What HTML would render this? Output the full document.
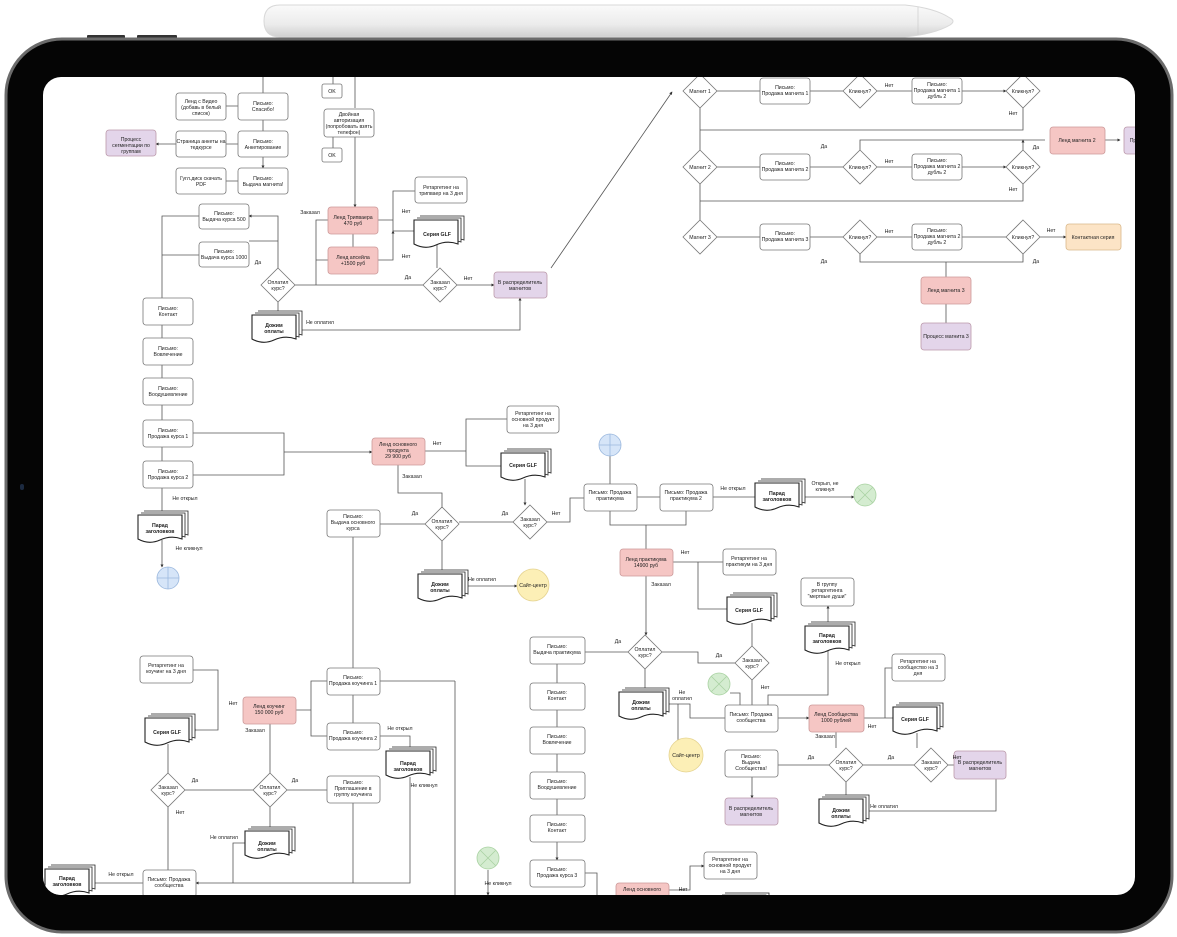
<!DOCTYPE html>
<html><head><meta charset="utf-8"><style>
html,body{margin:0;padding:0;background:#fff;width:1177px;height:937px;overflow:hidden}
svg text{font-family:"Liberation Sans",sans-serif;font-size:5.2px;fill:#222;text-anchor:middle}
svg text.l{text-anchor:start}
svg text.b{font-weight:bold}
</style></head><body>
<svg width="1177" height="937" viewBox="0 0 1177 937" xmlns="http://www.w3.org/2000/svg">
<defs>
<linearGradient id="pen" x1="0" y1="0" x2="0" y2="1"><stop offset="0" stop-color="#fafafa"/><stop offset=".6" stop-color="#ececec"/><stop offset="1" stop-color="#cfcfcf"/></linearGradient>
<marker id="a" viewBox="0 0 6 6" refX="5" refY="3" markerWidth="4" markerHeight="4" orient="auto"><path d="M0,0L6,3L0,6z" fill="#333"/></marker>
<clipPath id="scr"><rect x="43" y="77" width="1092" height="818" rx="18"/></clipPath>
<g id="doc"><path d="M6,-4H50V20Q45,18 40,20" fill="#fff" stroke="#222" stroke-width=".8"/><path d="M3,-2H47V22Q42,20 37,22" fill="#fff" stroke="#222" stroke-width=".8"/><path d="M0,0H44V24Q33,20 22,25T0,24Z" fill="#fff" stroke="#222" stroke-width="1.1"/></g>
</defs>
<!-- pencil -->
<path d="M280,5H905Q935,8 950,18Q956,21 950,25Q935,34 905,37H280Q264,37 264,21Q264,5 280,5Z" fill="url(#pen)" stroke="#d8d8d8"/>
<line x1="918" y1="7" x2="918" y2="35" stroke="#ccc" stroke-width=".7"/>
<!-- frame -->
<rect x="87" y="35" width="38" height="4" rx="1" fill="#333"/><rect x="137" y="35" width="40" height="4" rx="1" fill="#333"/>
<rect x="6" y="39" width="1166" height="893" rx="56" fill="#050505" stroke="#6b6b6b" stroke-width="3"/>
<rect x="20" y="484" width="4" height="6" rx="2" fill="#1c2a40"/>
<rect x="43" y="77" width="1092" height="818" rx="18" fill="#fff"/>
<g clip-path="url(#scr)" stroke="#555" stroke-width=".8" fill="none">
<!-- connectors -->
<path d="M333,77V84M355,77V108M333,136V148M355,136V207" marker-end="url(#a)"/>
<path d="M263,77V93M263,120V131M263,157V168" marker-end="url(#a)"/>
<path d="M238,106H226M238,144H226M238,181H226M176,144H156" marker-end="url(#a)"/>
<path d="M353,234V247M378,220H393V191H415M393,220V231H414M378,260H393V231" marker-end="url(#a)"/>
<path d="M437,245V268M423,285H295M328,220H316V285M328,260H316M457,285H494" marker-end="url(#a)"/>
<path d="M278,268V241H249M278,241V216H249" marker-end="url(#a)"/>
<path d="M278,302V313M298,330H520V298" marker-end="url(#a)"/>
<path d="M199,216H162V298M199,255H162" />
<path d="M162,325V338M162,365V378M162,405V420M162,447V461M162,488V513M162,540V567" marker-end="url(#a)"/>
<path d="M551,268L672,92" marker-end="url(#a)"/>
<path d="M717,91H760M810,91H843M877,91H912M962,91H1006" marker-end="url(#a)"/>
<path d="M717,167H760M810,167H843M877,167H912M962,167H1006" marker-end="url(#a)"/>
<path d="M717,237H760M810,237H843M877,237H912M962,237H1006M1040,237H1066" marker-end="url(#a)"/>
<path d="M700,108V150M700,184V220M1023,108V130H700M1023,184V201H700M860,150V140H1045M1023,150V140" marker-end="url(#a)"/>
<path d="M860,254V262H1023V254M946,262V277M946,304V323M1105,140H1120" marker-end="url(#a)"/>
<path d="M193,433H284V475H193M284,452H372" marker-end="url(#a)"/>
<path d="M425,451H466V419H507M466,451V466H501M398,465V493H442V507M525,479V505" marker-end="url(#a)"/>
<path d="M513,522H459M425,524H380M547,522H570V498H584M442,541V572M466,586H517" marker-end="url(#a)"/>
<path d="M353,537V668M610,456V484M637,497H660M713,497H755M801,497H854" marker-end="url(#a)"/>
<path d="M610,511V525H686V511M646,525V549M673,562H723M698,562V609H727M646,576V635" marker-end="url(#a)"/>
<path d="M752,623V646M735,663H698V652H662M628,652H585M645,669V690M828,624V606" marker-end="url(#a)"/>
<path d="M557,664V683M557,710V727M557,754V772M557,799V815M557,842V860" marker-end="url(#a)"/>
<path d="M667,704H690V718H725M678,704V740M752,680V705M730,693H740V705M768,705V695H828V651M778,718H809" marker-end="url(#a)"/>
<path d="M864,718H885V668H892M885,718H893M917,733V748M836,732V748M914,765H863M829,765H778M948,765H954M846,782V797M865,811H996V779M752,777V798" marker-end="url(#a)"/>
<path d="M585,873H597V895M669,890H690V866H704" marker-end="url(#a)"/>
<path d="M327,681H311V710H296M311,710V736H327M353,695V723M380,736H410V749M218,710V670H193M218,710V730H193" marker-end="url(#a)"/>
<path d="M168,744V773M185,790H253M287,790H327M270,724V773M270,807V829M168,807V870M353,803V883M410,777V883H196" marker-end="url(#a)"/>
<path d="M245,843H233V883M143,883H91M455,681H380M455,681V895M488,870V895" marker-end="url(#a)"/>
</g>
<g clip-path="url(#scr)">
<!-- boxes -->
<g stroke="#777" stroke-width=".8" fill="#fff">
<rect x="322" y="84" width="20" height="14" rx="2"/><rect x="322" y="148" width="20" height="14" rx="2"/>
<rect x="176" y="93" width="50" height="27" rx="3"/><rect x="238" y="93" width="50" height="27" rx="3"/>
<rect x="176" y="131" width="50" height="26" rx="3"/><rect x="238" y="131" width="50" height="26" rx="3"/>
<rect x="176" y="168" width="50" height="26" rx="3"/><rect x="238" y="168" width="50" height="26" rx="3"/>
<rect x="324" y="109" width="50" height="28" rx="3"/><rect x="415" y="177" width="52" height="26" rx="3"/>
<rect x="199" y="204" width="50" height="25" rx="3"/><rect x="199" y="242" width="50" height="25" rx="3"/>
<rect x="143" y="298" width="50" height="27" rx="3"/><rect x="143" y="338" width="50" height="27" rx="3"/>
<rect x="143" y="378" width="50" height="27" rx="3"/><rect x="143" y="420" width="50" height="27" rx="3"/>
<rect x="143" y="461" width="50" height="27" rx="3"/>
<rect x="760" y="78" width="50" height="26" rx="3"/><rect x="912" y="78" width="50" height="26" rx="3"/>
<rect x="760" y="154" width="50" height="26" rx="3"/><rect x="912" y="154" width="50" height="26" rx="3"/>
<rect x="760" y="224" width="50" height="26" rx="3"/><rect x="912" y="224" width="50" height="26" rx="3"/>
<rect x="507" y="406" width="52" height="27" rx="3"/><rect x="327" y="510" width="53" height="27" rx="3"/>
<rect x="584" y="484" width="53" height="27" rx="3"/><rect x="660" y="484" width="53" height="27" rx="3"/>
<rect x="723" y="549" width="53" height="26" rx="3"/><rect x="801" y="578" width="53" height="28" rx="3"/>
<rect x="530" y="637" width="55" height="27" rx="3"/><rect x="725" y="705" width="53" height="27" rx="3"/>
<rect x="892" y="654" width="53" height="27" rx="3"/><rect x="725" y="750" width="53" height="27" rx="3"/>
<rect x="530" y="683" width="55" height="27" rx="3"/><rect x="530" y="727" width="55" height="27" rx="3"/>
<rect x="530" y="772" width="55" height="27" rx="3"/><rect x="530" y="815" width="55" height="27" rx="3"/>
<rect x="530" y="860" width="55" height="27" rx="3"/><rect x="704" y="852" width="53" height="27" rx="3"/>
<rect x="140" y="656" width="53" height="27" rx="3"/><rect x="327" y="668" width="53" height="27" rx="3"/>
<rect x="327" y="723" width="53" height="27" rx="3"/><rect x="327" y="776" width="53" height="27" rx="3"/>
<rect x="143" y="870" width="53" height="27" rx="3"/>
</g>
<g stroke="#c99" stroke-width=".8" fill="#f5c6c4">
<rect x="328" y="207" width="50" height="27" rx="3"/><rect x="328" y="247" width="50" height="27" rx="3"/>
<rect x="1050" y="127" width="55" height="27" rx="3"/><rect x="921" y="277" width="50" height="27" rx="3"/>
<rect x="372" y="438" width="53" height="27" rx="3"/><rect x="620" y="549" width="53" height="27" rx="3"/>
<rect x="809" y="705" width="55" height="27" rx="3"/><rect x="243" y="697" width="53" height="27" rx="3"/>
<rect x="616" y="883" width="53" height="27" rx="3"/>
</g>
<g stroke="#b9a" stroke-width=".8" fill="#e3d5ea">
<rect x="106" y="130" width="50" height="26" rx="3"/><rect x="494" y="272" width="53" height="26" rx="3"/>
<rect x="1124" y="127" width="30" height="27" rx="3"/><rect x="921" y="323" width="50" height="27" rx="3"/>
<rect x="954" y="751" width="52" height="28" rx="3"/><rect x="725" y="798" width="53" height="27" rx="3"/>
</g>
<rect x="1066" y="224" width="55" height="26" rx="3" fill="#fce4c6" stroke="#d9b88a" stroke-width=".8"/>
<!-- diamonds -->
<g stroke="#777" stroke-width=".8" fill="#fff">
<path d="M278,268l17,17l-17,17l-17,-17z"/><path d="M440,268l17,17l-17,17l-17,-17z"/>
<path d="M700,74l17,17l-17,17l-17,-17z"/><path d="M860,74l17,17l-17,17l-17,-17z"/><path d="M1023,74l17,17l-17,17l-17,-17z"/>
<path d="M700,150l17,17l-17,17l-17,-17z"/><path d="M860,150l17,17l-17,17l-17,-17z"/><path d="M1023,150l17,17l-17,17l-17,-17z"/>
<path d="M700,220l17,17l-17,17l-17,-17z"/><path d="M860,220l17,17l-17,17l-17,-17z"/><path d="M1023,220l17,17l-17,17l-17,-17z"/>
<path d="M442,507l17,17l-17,17l-17,-17z"/><path d="M530,505l17,17l-17,17l-17,-17z"/>
<path d="M645,635l17,17l-17,17l-17,-17z"/><path d="M752,646l17,17l-17,17l-17,-17z"/>
<path d="M846,748l17,17l-17,17l-17,-17z"/><path d="M931,748l17,17l-17,17l-17,-17z"/>
<path d="M168,773l17,17l-17,17l-17,-17z"/><path d="M270,773l17,17l-17,17l-17,-17z"/>
</g>
<!-- docs -->
<use href="#doc" x="252" y="315"/><use href="#doc" x="414" y="220"/><use href="#doc" x="138" y="515"/>
<use href="#doc" x="501" y="453"/><use href="#doc" x="418" y="574"/><use href="#doc" x="755" y="483"/>
<use href="#doc" x="727" y="597"/><use href="#doc" x="805" y="626"/><use href="#doc" x="619" y="692"/>
<use href="#doc" x="893" y="707"/><use href="#doc" x="819" y="799"/><use href="#doc" x="145" y="718"/>
<use href="#doc" x="386" y="751"/><use href="#doc" x="245" y="831"/><use href="#doc" x="45" y="869"/>
<use href="#doc" x="719" y="897"/>
<!-- circles -->
<g stroke-width=".8">
<circle cx="168" cy="578" r="11" fill="#d6e5f8" stroke="#9bb8de"/><path d="M157,578h22M168,567v22" stroke="#9bb8de"/>
<circle cx="610" cy="445" r="11" fill="#d6e5f8" stroke="#9bb8de"/><path d="M599,445h22M610,434v22" stroke="#9bb8de"/>
<circle cx="533" cy="585" r="16" fill="#fcefb6" stroke="#e5d390"/>
<circle cx="686" cy="755" r="17" fill="#fcefb6" stroke="#e5d390"/>
<circle cx="865" cy="495" r="11" fill="#d4ecd0" stroke="#a9d2a2"/><path d="M857,487l16,16M873,487l-16,16" stroke="#a9d2a2"/>
<circle cx="719" cy="684" r="11" fill="#d4ecd0" stroke="#a9d2a2"/><path d="M711,676l16,16M727,676l-16,16" stroke="#a9d2a2"/>
<circle cx="488" cy="858" r="11" fill="#d4ecd0" stroke="#a9d2a2"/><path d="M480,850l16,16M496,850l-16,16" stroke="#a9d2a2"/>
</g>
<!-- texts -->
<text x="332" y="93">OK</text><text x="332" y="157">OK</text>
<text x="201" y="103">Ленд с Видео<tspan x="201" dy="6">(добавь в белый</tspan><tspan x="201" dy="6">список)</tspan></text>
<text x="263" y="105">Письмо:<tspan x="263" dy="6">Спасибо!</tspan></text>
<text x="131" y="141">Процесс<tspan x="131" dy="6">сегментации по</tspan><tspan x="131" dy="6">группам</tspan></text>
<text x="201" y="143">Страница анкеты на<tspan x="201" dy="6">тедкурсе</tspan></text>
<text x="263" y="143">Письмо:<tspan x="263" dy="6">Анкетирование</tspan></text>
<text x="201" y="180">Гугл.диск скачать<tspan x="201" dy="6">PDF</tspan></text>
<text x="263" y="180">Письмо:<tspan x="263" dy="6">Выдача магнита!</tspan></text>
<text x="349" y="116">Двойная<tspan x="349" dy="6">авторизация</tspan><tspan x="349" dy="6">(попробовать взять</tspan><tspan x="349" dy="6">телефон)</tspan></text>
<text x="441" y="189">Ретаргетинг на<tspan x="441" dy="6">трипваер на 3 дня</tspan></text>
<text x="224" y="215">Письмо:<tspan x="224" dy="6">Выдача курса 500</tspan></text>
<text x="224" y="253">Письмо:<tspan x="224" dy="6">Выдача курса 1000</tspan></text>
<text x="353" y="219">Ленд Трипваера<tspan x="353" dy="6">470 руб</tspan></text>
<text x="353" y="259">Ленд апсейла<tspan x="353" dy="6">+1500 руб</tspan></text>
<text x="310" y="214">Заказал</text><text x="406" y="213">Нет</text><text x="406" y="258">Нет</text>
<text x="408" y="279">Да</text><text x="468" y="280">Нет</text><text x="258" y="264">Да</text>
<text x="278" y="284">Оплатил<tspan x="278" dy="6">курс?</tspan></text>
<text x="440" y="284">Заказал<tspan x="440" dy="6">курс?</tspan></text>
<text x="520" y="284">В распределитель<tspan x="520" dy="6">магнитов</tspan></text>
<text x="274" y="327" class="b">Дожим<tspan x="274" dy="6">оплаты</tspan></text><text x="320" y="324">Не оплатил</text>
<text x="437" y="236" class="b">Серия GLF</text>
<text x="168" y="310">Письмо:<tspan x="168" dy="6">Контакт</tspan></text>
<text x="168" y="350">Письмо:<tspan x="168" dy="6">Вовлечение</tspan></text>
<text x="168" y="390">Письмо:<tspan x="168" dy="6">Воодушевление</tspan></text>
<text x="168" y="432">Письмо:<tspan x="168" dy="6">Продажа курса 1</tspan></text>
<text x="168" y="473">Письмо:<tspan x="168" dy="6">Продажа курса 2</tspan></text>
<text x="185" y="500">Не открыл</text><text x="160" y="527" class="b">Парад<tspan x="160" dy="6">заголовков</tspan></text><text x="189" y="550">Не кликнул</text>
<text x="700" y="93">Магнит 1</text><text x="700" y="169">Магнит 2</text><text x="700" y="239">Магнит 3</text>
<text x="785" y="89">Письмо:<tspan x="785" dy="6">Продажа магнита 1</tspan></text>
<text x="785" y="165">Письмо:<tspan x="785" dy="6">Продажа магнита 2</tspan></text>
<text x="785" y="235">Письмо:<tspan x="785" dy="6">Продажа магнита 3</tspan></text>
<text x="937" y="86">Письмо:<tspan x="937" dy="6">Продажа магнита 1</tspan><tspan x="937" dy="6">дубль 2</tspan></text>
<text x="937" y="162">Письмо:<tspan x="937" dy="6">Продажа магнита 2</tspan><tspan x="937" dy="6">дубль 2</tspan></text>
<text x="937" y="232">Письмо:<tspan x="937" dy="6">Продажа магнита 2</tspan><tspan x="937" dy="6">дубль 2</tspan></text>
<text x="860" y="93">Кликнул?</text><text x="1023" y="93">Кликнул?</text><text x="860" y="169">Кликнул?</text><text x="1023" y="169">Кликнул?</text><text x="860" y="239">Кликнул?</text><text x="1023" y="239">Кликнул?</text>
<text x="889" y="87">Нет</text><text x="1013" y="115">Нет</text><text x="889" y="163">Нет</text><text x="1013" y="191">Нет</text><text x="889" y="233">Нет</text><text x="1051" y="232">Нет</text>
<text x="824" y="148">Да</text><text x="1036" y="149">Да</text><text x="824" y="263">Да</text><text x="1036" y="263">Да</text>
<text x="1077" y="142">Ленд магнита 2</text><text x="1133" y="142">Пр</text>
<text x="1093" y="239">Контактная серия</text><text x="946" y="292">Ленд магнита 3</text><text x="946" y="338">Процесс магнита 3</text>
<text x="533" y="415">Ретаргетинг на<tspan x="533" dy="6">основной продукт</tspan><tspan x="533" dy="6">на 3 дня</tspan></text>
<text x="398" y="446">Ленд основного<tspan x="398" dy="6">продукта</tspan><tspan x="398" dy="6">29 900 руб</tspan></text>
<text x="437" y="445">Нет</text><text x="412" y="478">Заказал</text><text x="523" y="467" class="b">Серия GLF</text>
<text x="442" y="523">Оплатил<tspan x="442" dy="6">курс?</tspan></text><text x="530" y="521">Заказал<tspan x="530" dy="6">курс?</tspan></text>
<text x="415" y="515">Да</text><text x="505" y="515">Да</text><text x="556" y="515">Нет</text>
<text x="353" y="518">Письмо:<tspan x="353" dy="6">Выдача основного</tspan><tspan x="353" dy="6">курса</tspan></text>
<text x="440" y="586" class="b">Дожим<tspan x="440" dy="6">оплаты</tspan></text><text x="482" y="581">Не оплатил</text><text x="533" y="587">Сайт-центр</text>
<text x="610" y="494">Письмо: Продажа<tspan x="610" dy="6">практикума</tspan></text>
<text x="686" y="494">Письмо: Продажа<tspan x="686" dy="6">практикума 2</tspan></text>
<text x="733" y="490">Не открыл</text><text x="777" y="495" class="b">Парад<tspan x="777" dy="6">заголовков</tspan></text>
<text x="825" y="485">Открыл, не<tspan x="825" dy="6">кликнул</tspan></text>
<text x="646" y="561">Ленд практикума<tspan x="646" dy="6">14900 руб</tspan></text><text x="685" y="554">Нет</text><text x="661" y="586">Заказал</text>
<text x="749" y="560">Ретаргетинг на<tspan x="749" dy="6">практикум на 3 дня</tspan></text>
<text x="749" y="612" class="b">Серия GLF</text>
<text x="827" y="586">В группу<tspan x="827" dy="6">ретаргетинга</tspan><tspan x="827" dy="6">"мертвые души"</tspan></text>
<text x="827" y="637" class="b">Парад<tspan x="827" dy="6">заголовков</tspan></text><text x="848" y="665">Не открыл</text>
<text x="645" y="651">Оплатил<tspan x="645" dy="6">курс?</tspan></text><text x="752" y="662">Заказал<tspan x="752" dy="6">курс?</tspan></text>
<text x="618" y="643">Да</text><text x="719" y="657">Да</text><text x="765" y="689">Нет</text>
<text x="557" y="648">Письмо:<tspan x="557" dy="6">Выдача практикума</tspan></text>
<text x="641" y="704" class="b">Дожим<tspan x="641" dy="6">оплаты</tspan></text><text x="682" y="694">Не<tspan x="682" dy="6">оплатил</tspan></text>
<text x="686" y="757">Сайт-центр</text>
<text x="751" y="716">Письмо: Продажа<tspan x="751" dy="6">сообщества</tspan></text>
<text x="836" y="716">Ленд Сообщества<tspan x="836" dy="6">1000 рублей</tspan></text><text x="872" y="728">Нет</text>
<text x="918" y="663">Ретаргетинг на<tspan x="918" dy="6">сообщество на 3</tspan><tspan x="918" dy="6">дня</tspan></text>
<text x="915" y="721" class="b">Серия GLF</text><text x="825" y="738">Заказал</text>
<text x="846" y="764">Оплатил<tspan x="846" dy="6">курс?</tspan></text><text x="931" y="764">Заказал<tspan x="931" dy="6">курс?</tspan></text>
<text x="811" y="759">Да</text><text x="891" y="759">Да</text><text x="957" y="759">Нет</text>
<text x="980" y="764">В распределитель<tspan x="980" dy="6">магнитов</tspan></text>
<text x="751" y="758">Письмо:<tspan x="751" dy="6">Выдача</tspan><tspan x="751" dy="6">Сообщества!</tspan></text>
<text x="751" y="810">В распределитель<tspan x="751" dy="6">магнитов</tspan></text>
<text x="841" y="812" class="b">Дожим<tspan x="841" dy="6">оплаты</tspan></text><text x="884" y="808">Не оплатил</text>
<text x="557" y="694">Письмо:<tspan x="557" dy="6">Контакт</tspan></text>
<text x="557" y="738">Письмо:<tspan x="557" dy="6">Вовлечение</tspan></text>
<text x="557" y="783">Письмо:<tspan x="557" dy="6">Воодушевление</tspan></text>
<text x="557" y="826">Письмо:<tspan x="557" dy="6">Контакт</tspan></text>
<text x="557" y="871">Письмо:<tspan x="557" dy="6">Продажа курса 3</tspan></text>
<text x="730" y="861">Ретаргетинг на<tspan x="730" dy="6">основной продукт</tspan><tspan x="730" dy="6">на 3 дня</tspan></text>
<text x="642" y="891">Ленд основного</text><text x="683" y="891">Нет</text><text x="498" y="885">Не кликнул</text>
<text x="166" y="667">Ретаргетинг на<tspan x="166" dy="6">коучинг на 3 дня</tspan></text>
<text x="269" y="708">Ленд коучинг<tspan x="269" dy="6">150 000 руб</tspan></text><text x="233" y="705">Нет</text><text x="255" y="732">Заказал</text>
<text x="353" y="679">Письмо:<tspan x="353" dy="6">Продажа коучинга 1</tspan></text>
<text x="353" y="734">Письмо:<tspan x="353" dy="6">Продажа коучинга 2</tspan></text>
<text x="400" y="730">Не открыл</text><text x="408" y="765" class="b">Парад<tspan x="408" dy="6">заголовков</tspan></text><text x="424" y="787">Не кликнул</text>
<text x="167" y="734" class="b">Серия GLF</text>
<text x="168" y="789">Заказал<tspan x="168" dy="6">курс?</tspan></text><text x="270" y="789">Оплатил<tspan x="270" dy="6">курс?</tspan></text>
<text x="195" y="782">Да</text><text x="295" y="782">Да</text><text x="180" y="814">Нет</text>
<text x="353" y="784">Письмо:<tspan x="353" dy="6">Приглашение в</tspan><tspan x="353" dy="6">группу коучинга</tspan></text>
<text x="267" y="845" class="b">Дожим<tspan x="267" dy="6">оплаты</tspan></text><text x="224" y="839">Не оплатил</text>
<text x="169" y="881">Письмо: Продажа<tspan x="169" dy="6">сообщества</tspan></text><text x="121" y="876">Не открыл</text>
<text x="67" y="880" class="b">Парад<tspan x="67" dy="6">заголовков</tspan></text>
</g>
</svg>
</body></html>
